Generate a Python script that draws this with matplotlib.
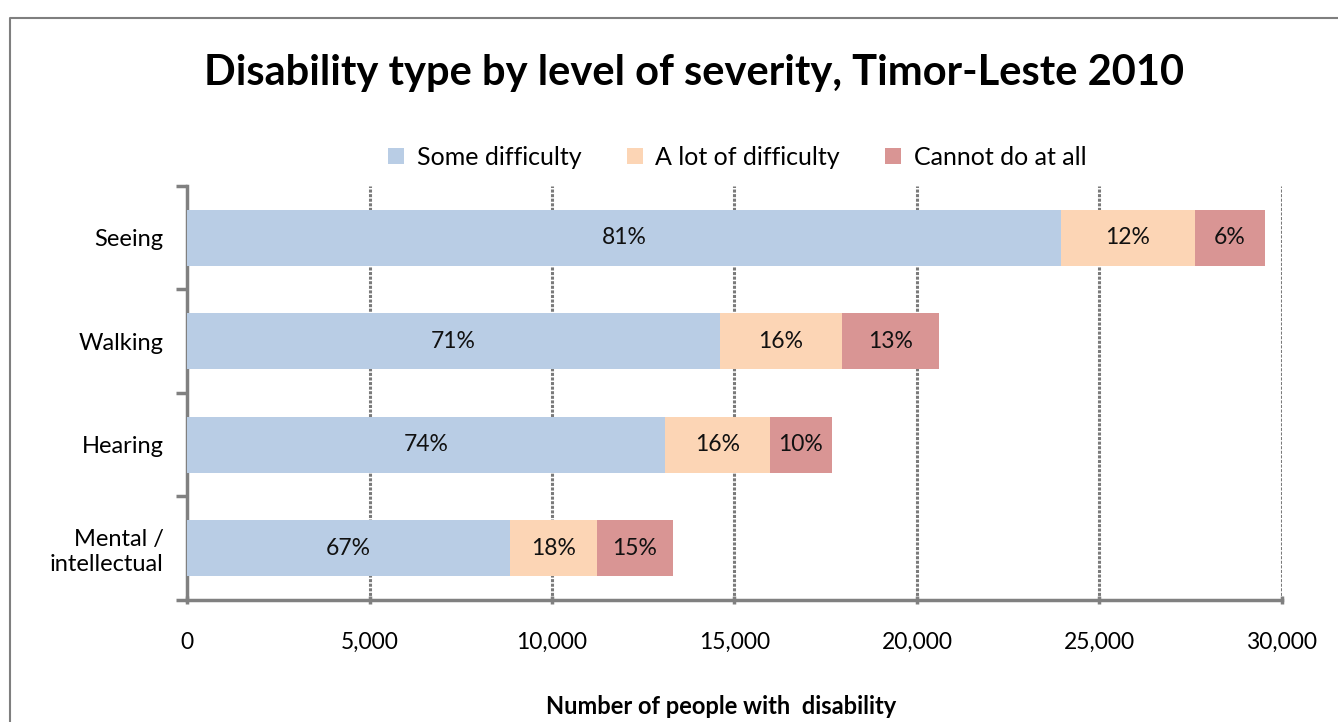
import matplotlib.pyplot as plt
import numpy as np
from matplotlib.lines import Line2D
from matplotlib.ticker import FuncFormatter

plt.rcParams['font.family'] = ['Lato', 'DejaVu Sans']

# data (number of people)
categories = ['Seeing', 'Walking', 'Hearing', 'Mental /\nintellectual']
some_difficulty = [23950, 14600, 13100, 8850]
lot_of_difficulty = [3660, 3340, 2870, 2380]
cannot_do = [1930, 2660, 1700, 2090]
pct_some = ['81%', '71%', '74%', '67%']
pct_lot = ['12%', '16%', '16%', '18%']
pct_cannot = ['6%', '13%', '10%', '15%']
series_names = ['Some difficulty', 'A lot of difficulty', 'Cannot do at all']
colors = ['#B9CDE5', '#FCD5B5', '#D99594']

fig = plt.figure(figsize=(13.38, 7.22), dpi=100)
ax = fig.add_axes([0.1398, 0.169, 0.8183, 0.5734])

y = np.arange(len(categories))
left = np.zeros(len(categories))
series = [some_difficulty, lot_of_difficulty, cannot_do]
labels = [pct_some, pct_lot, pct_cannot]
for vals, lab, col, name in zip(series, labels, colors, series_names):
    vals = np.array(vals)
    bars = ax.barh(y, vals, left=left, height=0.54, color=col, label=name, zorder=3)
    ax.bar_label(bars, labels=lab, label_type='center', fontsize=16.5, color='#111111')
    left = left + vals

ax.set_ylim(len(categories) - 0.5, -0.5)
ax.set_xlim(0, 30000)
ax.set_xticks(np.arange(0, 30001, 5000))
ax.xaxis.set_major_formatter(FuncFormatter(lambda v, p: f'{int(v):,}'))
ax.set_yticks(y)
ax.set_yticklabels(categories, fontsize=17, linespacing=1.2, multialignment='right')
ax.set_yticks(np.arange(-0.5, len(categories), 1), minor=True)
ax.tick_params(axis='y', which='major', length=0, pad=17)
ax.tick_params(axis='y', which='minor', length=8, width=2.5, color='#808080', direction='out')
ax.tick_params(axis='x', length=6, width=2.5, color='#808080', direction='inout', labelsize=16.5, pad=20)

for x in np.arange(5000, 30001, 5000):
    ax.axvline(x, color='#7a7a7a', lw=2.2, ls=(0, (1, 0.5)), zorder=1)

for s in ['top', 'right']:
    ax.spines[s].set_visible(False)
for s in ['left', 'bottom']:
    ax.spines[s].set_color('#808080')
    ax.spines[s].set_linewidth(2.5)

ax.set_xlabel('Number of people with  disability', fontsize=17, fontweight='bold', labelpad=30)
ax.xaxis.label.set_x(0.488)

fig.text(0.519, 0.899, 'Disability type by level of severity, Timor-Leste 2010',
         ha='center', va='center', fontsize=30, fontweight='bold')

fig.legend(loc='center', bbox_to_anchor=(0.551, 0.782), ncol=3, frameon=False,
           fontsize=18, handlelength=0.65, handleheight=0.65, handletextpad=0.5,
           columnspacing=1.8)

# outer chart frame (only top and left are visible in the crop)
fig.add_artist(Line2D([0.0075, 0.0075, 1.0], [0.0, 0.975, 0.975], color='#7f7f7f', lw=1.5,
                      transform=fig.transFigure))

fig.savefig('out.png', dpi=100)
